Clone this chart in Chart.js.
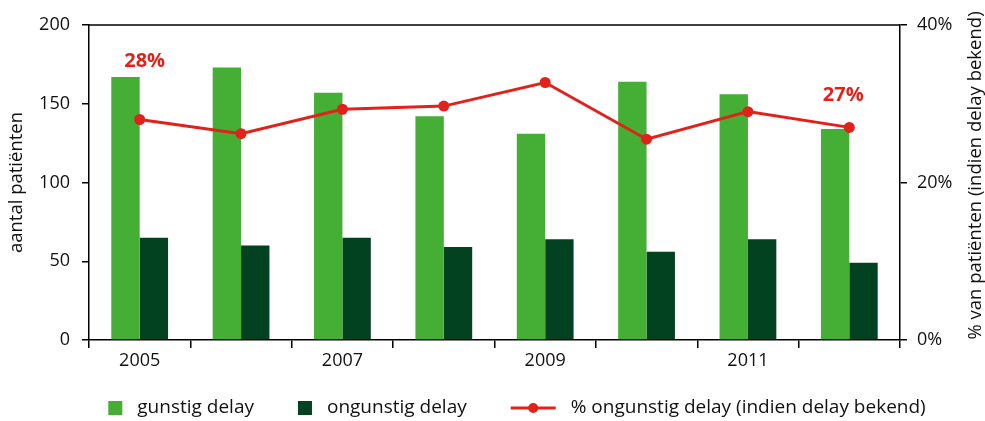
<!DOCTYPE html>
<html>
<head>
<meta charset="utf-8">
<script src="https://cdn.jsdelivr.net/npm/chart.js@4.4.1/dist/chart.umd.min.js"></script>
<style>
    html, body { margin: 0; padding: 0; background: #fff; }
    #wrap { width: 985px; height: 421px; position: relative; }
</style>
</head>
<body>
<div id="wrap"><canvas id="delayChart"></canvas></div>
<script>
// data
const years = ['2005', '2006', '2007', '2008', '2009', '2010', '2011', '2012'];
const gunstig = [167, 173, 157, 142, 131, 164, 156, 134];
const ongunstig = [65, 60, 65, 59, 64, 56, 64, 49];
const pctOngunstig = [28.0, 26.2, 29.3, 29.7, 32.7, 25.5, 29.0, 27.0];
const leftTicks = [0, 50, 100, 150, 200];
const rightTicks = [0, 20, 40];
const seriesNames = ['gunstig delay', 'ongunstig delay', '% ongunstig delay (indien delay bekend)'];
const rightTitle = '% van patiënten (indien delay bekend)';
const labelledYears = ['2005', '2012'];

const LIGHT = '#45ae35';
const DARK = '#024220';
const RED = '#e3211b';
const FONT = "'Open Sans', 'Noto Sans', sans-serif";

// top border of the plot box + right axis title (reads bottom to top)
const framePlugin = {
    id: 'frame',
    afterDraw(chart) {
        const a = chart.chartArea;
        const ctx = chart.ctx;
        ctx.save();
        ctx.strokeStyle = '#000';
        ctx.lineWidth = 1.5;
        ctx.beginPath();
        ctx.moveTo(a.left, a.top);
        ctx.lineTo(a.right, a.top);
        ctx.stroke();

        ctx.translate(chart.scales.y2.right - 9, (a.top + a.bottom) / 2 - 7);
        ctx.rotate(-Math.PI / 2);
        ctx.font = "18.5px " + FONT;
        ctx.fillStyle = '#111';
        ctx.textAlign = 'center';
        ctx.textBaseline = 'middle';
        ctx.fillText(rightTitle, 0, 0);
        ctx.restore();
    }
};

// red % labels near first and last point
const pctLabelPlugin = {
    id: 'pctLabels',
    afterDatasetsDraw(chart) {
        const meta = chart.getDatasetMeta(2);
        const ctx = chart.ctx;
        const offsets = { '2005': [5, -58], '2012': [-6, -32] };
        ctx.save();
        ctx.fillStyle = RED;
        ctx.font = "bold 20px " + FONT;
        ctx.textAlign = 'center';
        ctx.textBaseline = 'middle';
        labelledYears.forEach(y => {
            const i = years.indexOf(y);
            const pt = meta.data[i];
            ctx.fillText(Math.round(pctOngunstig[i]) + '%', pt.x + offsets[y][0], pt.y + offsets[y][1]);
        });
        ctx.restore();
    }
};

// legend with a line+dot swatch for the line series
const legendPlugin = {
    id: 'customLegend',
    afterDraw(chart) {
        const ctx = chart.ctx;
        ctx.save();
        ctx.font = "19px " + FONT;
        ctx.textBaseline = 'middle';
        const y = 408;
        const items = chart.data.datasets.map(ds => ({
            text: ds.label,
            type: ds.type || 'bar',
            color: ds.type === 'line' ? ds.borderColor : ds.backgroundColor,
            sw: ds.type === 'line' ? 45 : 14
        }));
        const gapSw = 15, gapItem = 44;
        let total = 0;
        items.forEach((it, k) => {
            it.w = ctx.measureText(it.text).width;
            total += it.sw + gapSw + it.w + (k < items.length - 1 ? gapItem : 0);
        });
        let x = 517 - total / 2;
        items.forEach(it => {
            if (it.type === 'line') {
                ctx.strokeStyle = it.color;
                ctx.lineWidth = 3;
                ctx.beginPath();
                ctx.moveTo(x, y);
                ctx.lineTo(x + it.sw, y);
                ctx.stroke();
                ctx.fillStyle = it.color;
                ctx.beginPath();
                ctx.arc(x + it.sw / 2, y, 5, 0, Math.PI * 2);
                ctx.fill();
            } else {
                ctx.fillStyle = it.color;
                ctx.fillRect(x, y - 7, 14, 14);
            }
            x += it.sw + gapSw;
            ctx.fillStyle = '#111';
            ctx.fillText(it.text, x, y);
            x += it.w + gapItem;
        });
        ctx.restore();
    }
};

const ctx = document.getElementById('delayChart').getContext('2d');
new Chart(ctx, {
    type: 'bar',
    data: {
        labels: years,
        datasets: [{
            label: seriesNames[0],
            data: gunstig,
            backgroundColor: LIGHT,
            yAxisID: 'y',
            order: 2,
            categoryPercentage: 0.56,
            barPercentage: 1.0
        }, {
            label: seriesNames[1],
            data: ongunstig,
            backgroundColor: DARK,
            yAxisID: 'y',
            order: 2,
            categoryPercentage: 0.56,
            barPercentage: 1.0
        }, {
            type: 'line',
            label: seriesNames[2],
            data: pctOngunstig,
            borderColor: RED,
            backgroundColor: RED,
            borderWidth: 3,
            pointRadius: 5.5,
            pointBackgroundColor: RED,
            pointBorderWidth: 0,
            tension: 0,
            yAxisID: 'y2',
            order: 0
        }]
    },
    options: {
        responsive: true,
        maintainAspectRatio: false,
        animation: false,
        layout: {
            padding: { top: 25, bottom: 51, left: 0, right: 0 }
        },
        plugins: {
            legend: { display: false },
            tooltip: { enabled: false }
        },
        scales: {
            x: {
                offset: true,
                grid: {
                    offset: true,
                    drawOnChartArea: false,
                    drawTicks: true,
                    tickLength: 8,
                    color: '#000',
                    lineWidth: 1.5
                },
                border: { display: true, color: '#000', width: 1.5 },
                ticks: {
                    color: '#111',
                    font: { size: 18, family: FONT },
                    autoSkip: false,
                    maxRotation: 0,
                    padding: 2,
                    callback: function(val, index) {
                        return index % 2 === 0 ? this.getLabelForValue(val) : '';
                    }
                },
                afterFit: scale => { scale.height = 30; }
            },
            y: {
                position: 'left',
                min: 0,
                max: 200,
                afterBuildTicks: scale => { scale.ticks = leftTicks.map(v => ({ value: v })); },
                grid: {
                    drawOnChartArea: false,
                    tickLength: 7,
                    color: '#000',
                    lineWidth: 1.5
                },
                border: { display: true, color: '#000', width: 1.5 },
                ticks: {
                    color: '#111',
                    font: { size: 18, family: FONT },
                    padding: 12
                },
                title: {
                    display: true,
                    text: 'aantal patiënten',
                    color: '#111',
                    font: { size: 18.5, family: FONT },
                    padding: { top: 6, bottom: 0 }
                },
                afterFit: scale => { scale.width = 89; }
            },
            y2: {
                position: 'right',
                min: 0,
                max: 40,
                afterBuildTicks: scale => { scale.ticks = rightTicks.map(v => ({ value: v })); },
                grid: {
                    drawOnChartArea: false,
                    tickLength: 7,
                    color: '#000',
                    lineWidth: 1.5
                },
                border: { display: true, color: '#000', width: 1.5 },
                ticks: {
                    color: '#111',
                    font: { size: 18, family: FONT },
                    padding: 10,
                    callback: v => v + '%'
                },
                afterFit: scale => { scale.width = 85; }
            }
        }
    },
    plugins: [framePlugin, pctLabelPlugin, legendPlugin]
});
</script>
</body>
</html>
